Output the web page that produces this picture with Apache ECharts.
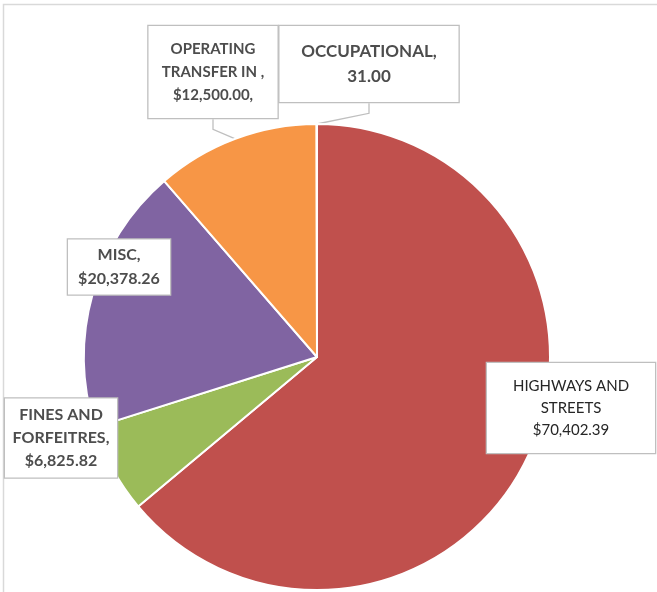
<!DOCTYPE html>
<html>
<head>
<meta charset="utf-8">
<script src="https://cdn.jsdelivr.net/npm/echarts@6/dist/echarts.min.js"></script>
<style>
  html, body { margin: 0; padding: 0; background: #fff; }
  #chart { width: 657px; height: 592px; }
</style>
</head>
<body>
<div id="chart"></div>
<script>
// Revenue by source
const categories = ['HIGHWAYS AND STREETS', 'FINES AND FORFEITRES', 'MISC', 'OPERATING TRANSFER IN', 'OCCUPATIONAL'];
const values = [70402.39, 6825.82, 20378.26, 12500.00, 31.00];
const labelTexts = [
  'HIGHWAYS AND\nSTREETS\n$70,402.39',
  'FINES AND\nFORFEITRES,\n$6,825.82',
  'MISC,\n$20,378.26',
  'OPERATING\nTRANSFER IN ,\n$12,500.00,',
  'OCCUPATIONAL,\n31.00'
];

const colors = ['#C0504D', '#9BBB59', '#8064A2', '#F79646', '#4BACC6'];

// callout boxes: centre x, centre y, box width, box height, font size, line height, bold
const boxes = [
  { cx: 571, cy: 408, w: 170, h: 90, fs: 15, lh: 22, bold: false, line: false },
  { cx: 61,  cy: 438, w: 114, h: 79, fs: 16, lh: 23, bold: true,  line: false },
  { cx: 119, cy: 267, w: 104, h: 55, fs: 16, lh: 24, bold: true,  line: true },
  { cx: 213, cy: 72,  w: 131, h: 92, fs: 15, lh: 23, bold: true,  line: true },
  { cx: 369, cy: 64,  w: 181, h: 76, fs: 17, lh: 25, bold: true,  line: true }
];

const seriesData = categories.map((name, i) => {
  const b = boxes[i];
  const lines = labelTexts[i].split('\n').length;
  const padV = (b.h - lines * b.lh) / 2;
  return {
    name: name,
    value: values[i],
    itemStyle: { color: colors[i] },
    label: {
      formatter: labelTexts[i],
      fontSize: b.fs,
      lineHeight: b.lh,
      fontWeight: b.bold ? 'bold' : 'normal',
      color: b.bold ? '#4d4d4d' : '#262626',
      width: b.w - 2,
      padding: [padV, 0, padV, 0]
    },
    labelLine: { show: b.line }
  };
});

const chart = echarts.init(document.getElementById('chart'), null, { renderer: 'canvas' });
chart.setOption({
  animation: false,
  backgroundColor: '#ffffff',
  graphic: [{
    type: 'rect',
    z: -10,
    shape: { x: 3.5, y: 4.5, width: 720, height: 720 },
    style: { fill: 'none', stroke: '#d9d9d9', lineWidth: 1.5 }
  }],
  series: [{
    type: 'pie',
    center: [317, 357],
    radius: 233,
    startAngle: 90,
    clockwise: true,
    avoidLabelOverlap: false,
    itemStyle: { borderColor: '#ffffff', borderWidth: 2 },
    label: {
      show: true,
      position: 'outside',
      fontFamily: 'Lato, "Open Sans", sans-serif',
      align: 'center',
      backgroundColor: '#ffffff',
      borderColor: '#bfbfbf',
      borderWidth: 1.3
    },
    labelLine: {
      show: true,
      length: 10,
      length2: 10,
      lineStyle: { color: '#bfbfbf', width: 1.3 }
    },
    labelLayout: function (params) {
      const b = boxes[params.dataIndex];
      return { x: b.cx, y: b.cy, align: 'center', verticalAlign: 'middle' };
    },
    data: seriesData
  }]
});
</script>
</body>
</html>
